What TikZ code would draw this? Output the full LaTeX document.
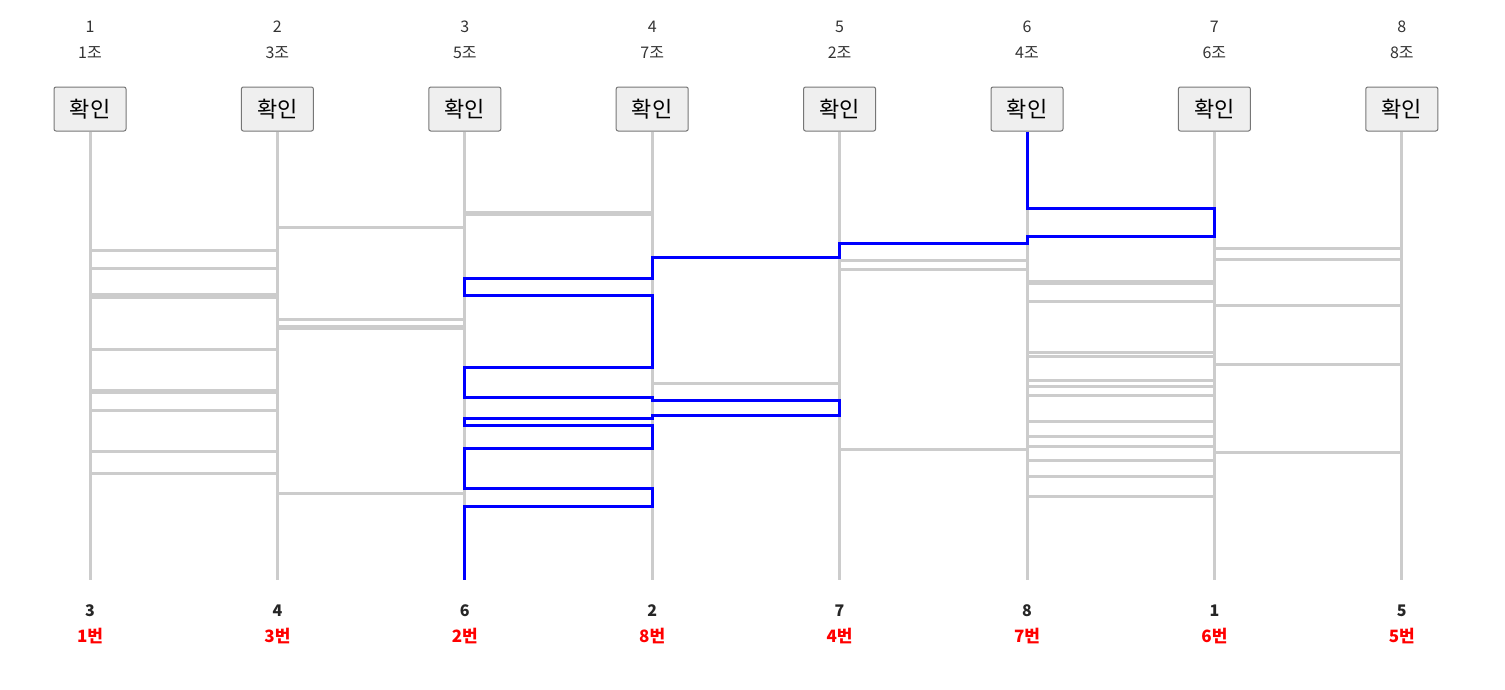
\documentclass[tikz,border=0pt]{standalone}
\usepackage{fontspec}
\setmainfont{Noto Sans CJK KR}
\usetikzlibrary{positioning}
\definecolor{railgray}{HTML}{CCCCCC}
\definecolor{btnfill}{HTML}{EFEFEF}
\definecolor{btnline}{HTML}{767676}
\definecolor{headtext}{HTML}{333333}

\begin{document}
\begin{tikzpicture}[x=1pt,y=-1pt,
    head/.style={text=headtext,inner sep=0pt,font=\fontsize{16}{19}\selectfont},
    btn/.style={draw=btnline,fill=btnfill,line width=1pt,rounded corners=2pt,
        minimum width=72pt,minimum height=44pt,inner sep=0pt,font=\fontsize{22}{26}\selectfont},
    res/.style={text=black!85,inner sep=0pt,font=\bfseries\fontsize{16}{19}\selectfont},
    prize/.style={text=red,inner sep=0pt,font=\bfseries\fontsize{17}{20}\selectfont},
    rail/.style={draw=railgray,line width=3pt},
    rung/.style={draw=railgray,line width=3pt},
    pick/.style={draw=blue,line width=3pt}]
    \useasboundingbox (0,0) rectangle (1505,689);

    % column 1
    \node[head] (num1) at (90,27) {1};
    \node[head] (team1) at (90,53) {1조};
    \node[btn] (btn1) at (90,109) {확인};
    \coordinate (end1) at (90,580);
    \node[res] (res1) at (90,611) {3};
    \node[prize] (prize1) at (90,636) {1번};

    % column 2
    \node[head] (num2) at (277.4,27) {2};
    \node[head] (team2) at (277.4,53) {3조};
    \node[btn] (btn2) at (277.4,109) {확인};
    \coordinate (end2) at (277.4,580);
    \node[res] (res2) at (277.4,611) {4};
    \node[prize] (prize2) at (277.4,636) {3번};

    % column 3
    \node[head] (num3) at (464.8,27) {3};
    \node[head] (team3) at (464.8,53) {5조};
    \node[btn] (btn3) at (464.8,109) {확인};
    \coordinate (end3) at (464.8,580);
    \node[res] (res3) at (464.8,611) {6};
    \node[prize] (prize3) at (464.8,636) {2번};

    % column 4
    \node[head] (num4) at (652.2,27) {4};
    \node[head] (team4) at (652.2,53) {7조};
    \node[btn] (btn4) at (652.2,109) {확인};
    \coordinate (end4) at (652.2,580);
    \node[res] (res4) at (652.2,611) {2};
    \node[prize] (prize4) at (652.2,636) {8번};

    % column 5
    \node[head] (num5) at (839.6,27) {5};
    \node[head] (team5) at (839.6,53) {2조};
    \node[btn] (btn5) at (839.6,109) {확인};
    \coordinate (end5) at (839.6,580);
    \node[res] (res5) at (839.6,611) {7};
    \node[prize] (prize5) at (839.6,636) {4번};

    % column 6
    \node[head] (num6) at (1027,27) {6};
    \node[head] (team6) at (1027,53) {4조};
    \node[btn] (btn6) at (1027,109) {확인};
    \coordinate (end6) at (1027,580);
    \node[res] (res6) at (1027,611) {8};
    \node[prize] (prize6) at (1027,636) {7번};

    % column 7
    \node[head] (num7) at (1214.4,27) {7};
    \node[head] (team7) at (1214.4,53) {6조};
    \node[btn] (btn7) at (1214.4,109) {확인};
    \coordinate (end7) at (1214.4,580);
    \node[res] (res7) at (1214.4,611) {1};
    \node[prize] (prize7) at (1214.4,636) {6번};

    % column 8
    \node[head] (num8) at (1401.8,27) {8};
    \node[head] (team8) at (1401.8,53) {8조};
    \node[btn] (btn8) at (1401.8,109) {확인};
    \coordinate (end8) at (1401.8,580);
    \node[res] (res8) at (1401.8,611) {5};
    \node[prize] (prize8) at (1401.8,636) {5번};

    % rails
    \draw[rail] (btn1.south) -- (end1);
    \draw[rail] (btn2.south) -- (end2);
    \draw[rail] (btn3.south) -- (end3);
    \draw[rail] (btn4.south) -- (end4);
    \draw[rail] (btn5.south) -- (end5);
    \draw[rail] (btn6.south) -- (end6);
    \draw[rail] (btn7.south) -- (end7);
    \draw[rail] (btn8.south) -- (end8);

    % rungs
    \foreach \y in {250.5,268.5,294.5,297.5,349.5,390,392,410,451.5,473}
        \draw[rung] (end1 |- 0,\y) -- (end2 |- 0,\y);
    \foreach \y in {227.5,319.5,326.8,328.5,493.5}
        \draw[rung] (end2 |- 0,\y) -- (end3 |- 0,\y);
    \foreach \y in {212.5,214.5}
        \draw[rung] (end3 |- 0,\y) -- (end4 |- 0,\y);
    \draw[rung] (end4 |- 0,383) -- (end5 |- 0,383);
    \foreach \y in {260,269,449}
        \draw[rung] (end5 |- 0,\y) -- (end6 |- 0,\y);
    \foreach \y in {281,283,301,352.5,356.5,380.5,386.5,395.5,421.5,436.5,446.5,460.5,476.5,496.5}
        \draw[rung] (end6 |- 0,\y) -- (end7 |- 0,\y);
    \foreach \y in {248.5,259.5,305.5,364.5,452.5}
        \draw[rung] (end7 |- 0,\y) -- (end8 |- 0,\y);

    % picked path
    \draw[pick] (btn6.south) -- (end6 |- 0,208) -- (end7 |- 0,208) -- (end7 |- 0,236)
        -- (end6 |- 0,236) -- (end6 |- 0,243) -- (end5 |- 0,243) -- (end5 |- 0,257.5)
        -- (end4 |- 0,257.5) -- (end4 |- 0,278.5) -- (end3 |- 0,278.5) -- (end3 |- 0,295.5)
        -- (end4 |- 0,295.5) -- (end4 |- 0,367.5) -- (end3 |- 0,367.5) -- (end3 |- 0,397.5)
        -- (end4 |- 0,397.5) -- (end4 |- 0,400.5) -- (end5 |- 0,400.5) -- (end5 |- 0,415)
        -- (end4 |- 0,415) -- (end4 |- 0,418.5) -- (end3 |- 0,418.5) -- (end3 |- 0,425.5)
        -- (end4 |- 0,425.5) -- (end4 |- 0,448.5) -- (end3 |- 0,448.5) -- (end3 |- 0,488.5)
        -- (end4 |- 0,488.5) -- (end4 |- 0,506) -- (end3 |- 0,506) -- (end3);
\end{tikzpicture}
\end{document}
